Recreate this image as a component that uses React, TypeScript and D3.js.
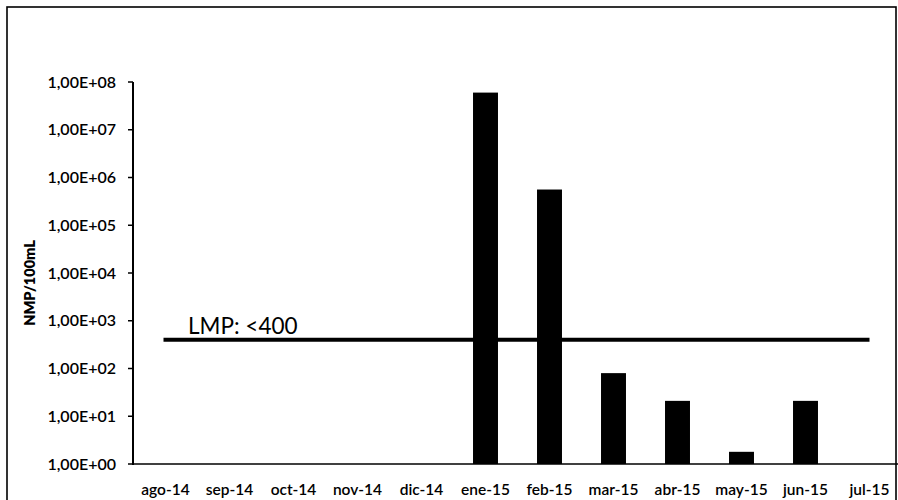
import React from "react";
import * as d3 from "d3";

const categories = ["ago-14","sep-14","oct-14","nov-14","dic-14","ene-15","feb-15","mar-15","abr-15","may-15","jun-15","jul-15"];
const values: (number | null)[] = [null, null, null, null, null, 6.0e7, 5.6e5, 80, 21, 1.8, 21, null];
const yTicks = [1, 10, 100, 1e3, 1e4, 1e5, 1e6, 1e7, 1e8];
const limitValue = 400;
const limitLabel = "LMP: <400";
const yTitle = "NMP/100mL";

const W = 898, H = 500;
const FONT = "Lato, 'Open Sans', sans-serif";

function fmt(v: number) {
  const e = Math.round(Math.log10(v));
  return "1,00E+" + String(e).padStart(2, "0");
}

export default function App() {
  const x = d3.scaleBand<string>().domain(categories).range([133.5, 901.5]).paddingInner(0.61).paddingOuter(0.305);
  const y = d3.scaleLog().domain([1, 1e8]).range([464, 82]);
  const bw = x.bandwidth();
  const cx = (c: string) => (x(c) as number) + bw / 2;
  const ly = y(limitValue);
  return (
    <div style={{ position: "fixed", left: 0, top: 0 }}>
      <svg width={W} height={H} style={{ display: "block", background: "#fff" }}>
        <rect x={7} y={7} width={889} height={510} fill="#fff" stroke="#000" strokeWidth={1.6} />
        {/* limit line */}
        <line x1={cx(categories[0]) - 2} x2={cx(categories[categories.length - 1])} y1={ly} y2={ly} stroke="#000" strokeWidth={4} />
        <text x={188} y={ly - 6} fontFamily={FONT} fontSize={22.5} fill="#000">{limitLabel}</text>
        {/* bars */}
        {categories.map((c, i) => {
          const v = values[i];
          if (v == null) return null;
          return <rect key={c} x={x(c)} y={y(v)} width={bw} height={y(1) - y(v)} fill="#000" />;
        })}
        {/* y axis */}
        <line x1={133} x2={133} y1={82} y2={465} stroke="#000" strokeWidth={2} />
        {yTicks.map(t => (
          <g key={t}>
            <line x1={128} x2={133} y1={y(t)} y2={y(t)} stroke="#000" strokeWidth={1.5} />
            <text x={116} y={y(t)} dy="0.35em" textAnchor="end" fontFamily={FONT} fontSize={16} fontWeight={600} fill="#000">{fmt(t)}</text>
          </g>
        ))}
        {/* x axis */}
        <line x1={133} x2={898} y1={464} y2={464} stroke="#000" strokeWidth={1.5} />
        {categories.map(c => (
          <text key={c} x={cx(c)} y={495} textAnchor="middle" fontFamily={FONT} fontSize={15.5} fontWeight={600} fill="#000">{c}</text>
        ))}
        <text transform={`translate(35,283) rotate(-90)`} textAnchor="middle" fontFamily={FONT} fontSize={14.5} fontWeight={800} fill="#000">{yTitle}</text>
      </svg>
    </div>
  );
}
